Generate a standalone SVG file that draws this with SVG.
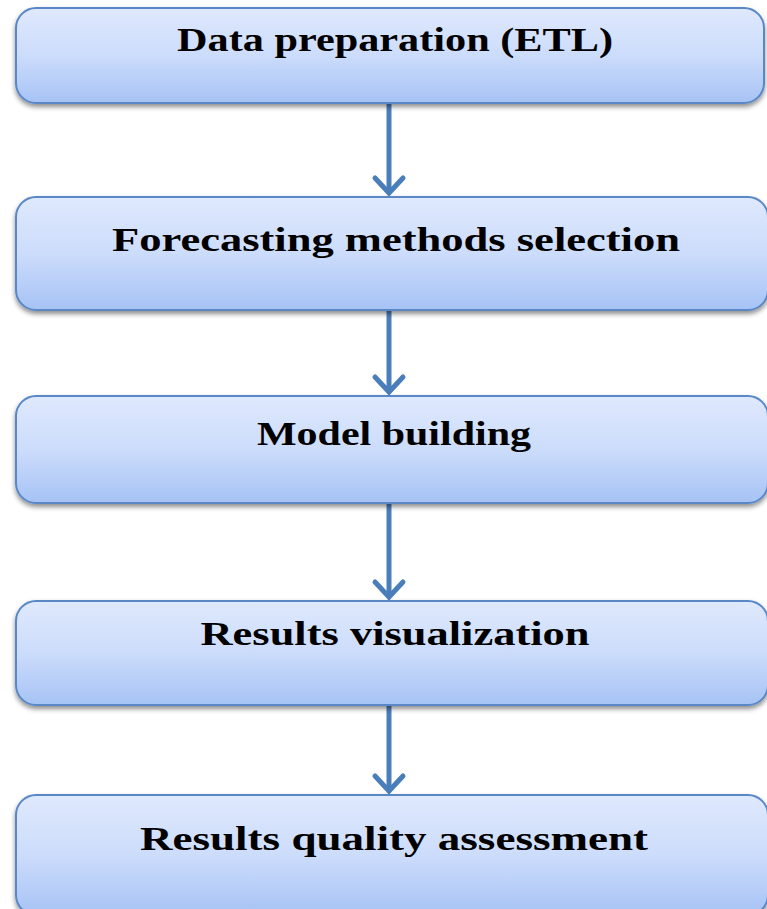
<svg xmlns="http://www.w3.org/2000/svg" width="767" height="909" viewBox="0 0 767 909">
  <style>
    .box { fill: url(#boxFill); stroke: #5a88c6; stroke-width: 2; filter: url(#shadow); }
    .label { font-family: "Liberation Serif", "Times New Roman", serif; font-weight: bold; font-size: 33px; fill: #000; text-anchor: middle; }
    .conn { stroke: #4a7ebb; stroke-width: 5; fill: none; }
    .head { stroke: #4a7ebb; stroke-width: 5; fill: none; stroke-linecap: round; stroke-linejoin: miter; }
  </style>
  <defs>
    <linearGradient id="boxFill" x1="0" y1="0" x2="0" y2="1">
      <stop offset="0" stop-color="#dfe9fd"/>
      <stop offset="0.5" stop-color="#ccdcfb"/>
      <stop offset="1" stop-color="#a6c3f5"/>
    </linearGradient>
    <filter id="shadow" x="-5%" y="-10%" width="110%" height="130%">
      <feGaussianBlur in="SourceAlpha" stdDeviation="2.5"/>
      <feOffset dx="0" dy="3" result="b"/>
      <feComponentTransfer><feFuncA type="linear" slope="0.45"/></feComponentTransfer>
      <feMerge><feMergeNode/><feMergeNode in="SourceGraphic"/></feMerge>
    </filter>
  </defs>
  <rect width="767" height="909" fill="#ffffff"/>

  <g id="connectors">
    <line class="conn" x1="389" y1="104" x2="389" y2="193"/>
    <polyline class="head" points="375,178 389,193 403,178"/>
    <line class="conn" x1="389" y1="311" x2="389" y2="392"/>
    <polyline class="head" points="375,377 389,392 403,377"/>
    <line class="conn" x1="389" y1="504" x2="389" y2="597"/>
    <polyline class="head" points="375,582 389,597 403,582"/>
    <line class="conn" x1="389" y1="706" x2="389" y2="791"/>
    <polyline class="head" points="375,776 389,791 403,776"/>
  </g>

  <g id="n1">
    <rect class="box" x="16" y="8" width="748" height="95" rx="20"/>
    <text class="label" x="395" y="51" textLength="436" lengthAdjust="spacingAndGlyphs">Data preparation (ETL)</text>
  </g>
  <g id="n2">
    <rect class="box" x="16" y="197" width="752" height="113" rx="20"/>
    <text class="label" x="396" y="251" textLength="568" lengthAdjust="spacingAndGlyphs">Forecasting methods selection</text>
  </g>
  <g id="n3">
    <rect class="box" x="16" y="396" width="752" height="107" rx="20"/>
    <text class="label" x="394" y="445" textLength="274" lengthAdjust="spacingAndGlyphs">Model building</text>
  </g>
  <g id="n4">
    <rect class="box" x="16" y="601" width="752" height="104" rx="20"/>
    <text class="label" x="395" y="645" textLength="389" lengthAdjust="spacingAndGlyphs">Results visualization</text>
  </g>
  <g id="n5">
    <rect class="box" x="16" y="795" width="752" height="120" rx="20"/>
    <text class="label" x="394" y="850" textLength="508" lengthAdjust="spacingAndGlyphs">Results quality assessment</text>
  </g>
</svg>
